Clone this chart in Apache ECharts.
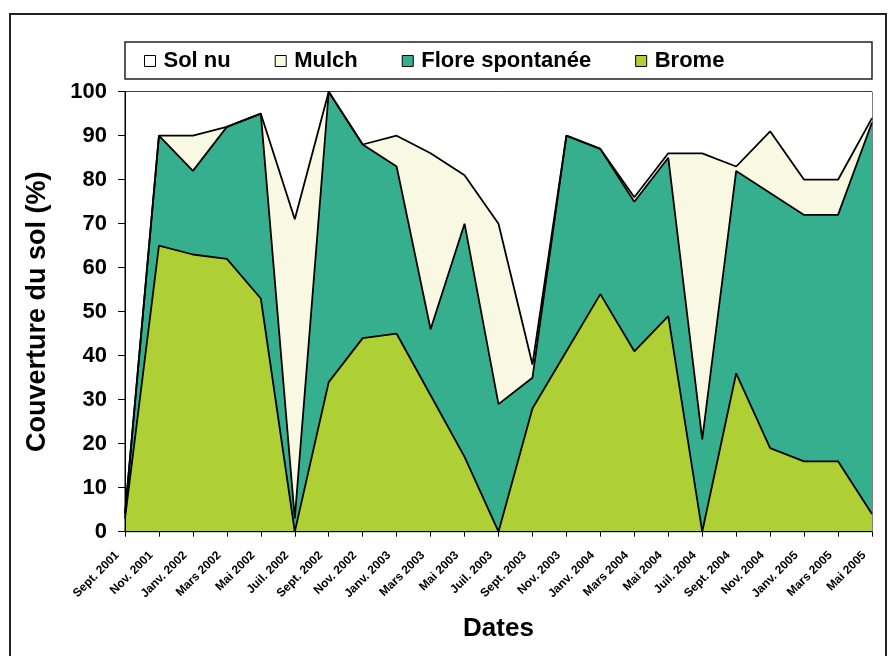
<!DOCTYPE html>
<html>
<head>
<meta charset="utf-8">
<script src="https://cdn.jsdelivr.net/npm/echarts@6/dist/echarts.min.js"></script>
<style>
  html, body { margin: 0; padding: 0; background: #fff; }
  #chart { width: 888px; height: 656px; }
</style>
</head>
<body>
<div id="chart"></div>
<script>
// Sampling dates (every two months)
const categories = [
  'Sept. 2001', 'Nov. 2001', 'Janv. 2002', 'Mars 2002', 'Mai 2002', 'Juil. 2002',
  'Sept. 2002', 'Nov. 2002', 'Janv. 2003', 'Mars 2003', 'Mai 2003', 'Juil. 2003',
  'Sept. 2003', 'Nov. 2003', 'Janv. 2004', 'Mars 2004', 'Mai 2004', 'Juil. 2004',
  'Sept. 2004', 'Nov. 2004', 'Janv. 2005', 'Mars 2005', 'Mai 2005'
];

// Ground cover (%) per component, stacked from the bottom up
const brome = [3, 65, 63, 62, 53, 0, 34, 44, 45, 31, 17, 0, 28, 41, 54, 41, 49, 0, 36, 19, 16, 16, 4];
const floreSpontanee = [1, 25, 19, 30, 42, 3, 66, 44, 38, 15, 53, 29, 7, 49, 33, 34, 36, 21, 46, 58, 56, 56, 89];
const mulch = [0, 0, 8, 0, 0, 68, 0, 0, 7, 40, 11, 41, 3, 0, 0, 1, 1, 65, 1, 14, 8, 8, 1];
const solNu = [96, 10, 10, 8, 5, 29, 0, 12, 10, 14, 19, 30, 62, 10, 13, 24, 14, 14, 17, 9, 20, 20, 6];

const yTicks = { min: 0, max: 100, interval: 10 };

const FONT = '"Liberation Sans", Arial, Helvetica, sans-serif';

function areaSeries(name, data, fill, lineWidth) {
  return {
    name: name,
    type: 'line',
    stack: 'couverture',
    data: data,
    showSymbol: false,
    symbol: 'none',
    itemStyle: { color: fill },
    lineStyle: { color: '#000', width: lineWidth },
    areaStyle: { color: fill, opacity: 1 },
    emphasis: { disabled: true },
    z: 2
  };
}

const chart = echarts.init(document.getElementById('chart'), null, { renderer: 'canvas' });

chart.setOption({
  animation: false,
  backgroundColor: '#fff',
  textStyle: { fontFamily: FONT },
  graphic: [
    {
      type: 'rect',
      shape: { x: 10, y: 14, width: 876, height: 660 },
      style: { fill: 'none', stroke: '#222', lineWidth: 2 },
      z: 0
    },
    {
      type: 'rect',
      shape: { x: 125, y: 42, width: 747, height: 37 },
      style: { fill: '#fff', stroke: '#222', lineWidth: 1.5 },
      z: 1
    }
  ],
  legend: {
    data: ['Sol nu', 'Mulch', 'Flore spontanée', 'Brome'],
    left: 144,
    top: 50,
    icon: 'rect',
    itemWidth: 11,
    itemHeight: 11,
    itemGap: 44,
    padding: 0,
    itemStyle: { borderColor: '#000', borderWidth: 1 },
    textStyle: { fontFamily: FONT, fontSize: 22, fontWeight: 'bold', color: '#000', padding: [0, 0, 0, 3] },
    selectedMode: false,
    z: 5
  },
  grid: {
    left: 125,
    right: 16,
    top: 91.7,
    bottom: 124.3,
    show: true,
    backgroundColor: '#fff',
    borderColor: '#000',
    borderWidth: 1,
    containLabel: false
  },
  xAxis: {
    type: 'category',
    data: categories,
    boundaryGap: false,
    name: 'Dates',
    nameLocation: 'middle',
    nameGap: 84,
    nameTextStyle: { fontFamily: FONT, fontSize: 26, fontWeight: 'bold', color: '#000' },
    axisLine: { show: true, lineStyle: { color: '#000', width: 1 } },
    axisTick: { show: true, length: 5, inside: false, lineStyle: { color: '#000' } },
    axisLabel: {
      interval: 0,
      rotate: 45,
      margin: 14,
      padding: [0, 11, 0, 0],
      fontFamily: FONT,
      fontSize: 12,
      fontWeight: 'bold',
      color: '#000'
    },
    splitLine: { show: false },
    z: 5
  },
  yAxis: {
    type: 'value',
    min: yTicks.min,
    max: yTicks.max,
    interval: yTicks.interval,
    name: 'Couverture du sol (%)',
    nameLocation: 'middle',
    nameGap: 74,
    nameTextStyle: { fontFamily: FONT, fontSize: 27, fontWeight: 'bold', color: '#000' },
    axisLine: { show: true, lineStyle: { color: '#000', width: 1 } },
    axisTick: { show: true, length: 7, inside: false, lineStyle: { color: '#000' } },
    axisLabel: {
      margin: 18,
      fontFamily: FONT,
      fontSize: 22,
      fontWeight: 'bold',
      color: '#000'
    },
    splitLine: { show: false },
    z: 5
  },
  series: [
    areaSeries('Brome', brome, '#AFD034', 1.8),
    areaSeries('Flore spontanée', floreSpontanee, '#36AF8F', 1.8),
    areaSeries('Mulch', mulch, '#F9F8E3', 1.8),
    areaSeries('Sol nu', solNu, '#FFFFFF', 0)
  ]
});
</script>
</body>
</html>
